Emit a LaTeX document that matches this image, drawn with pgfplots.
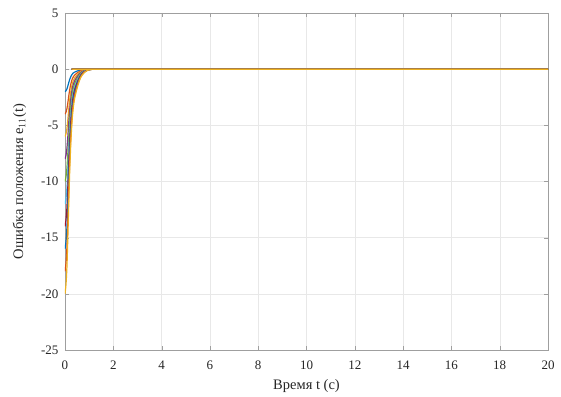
\documentclass[border=0pt]{standalone}
\usepackage{fontspec}
\setmainfont{Liberation Serif}
\usepackage{pgfplots}
\usepackage{pgfplotstable}
\pgfplotsset{compat=1.18}
\definecolor{m1}{rgb}{0,0.447,0.741}
\definecolor{m2}{rgb}{0.85,0.325,0.098}
\definecolor{m3}{rgb}{0.929,0.694,0.125}
\definecolor{m4}{rgb}{0.494,0.184,0.556}
\definecolor{m5}{rgb}{0.466,0.674,0.188}
\definecolor{m6}{rgb}{0.301,0.745,0.933}
\definecolor{m7}{rgb}{0.635,0.078,0.184}
\pgfplotstableread{
t    c1     c2     c3     c4     c5     c6     c7     c8     c9     c10
0    -2     -4     -6     -8     -10    -12    -14    -16    -18    -20
0.04 -1.92  -3.84  -5.76  -7.68  -9.6   -11.52 -13.44 -15.36 -17.28 -19.2
0.08 -1.76  -3.52  -5.28  -7.04  -8.8   -10.56 -12.32 -14.08 -15.84 -17.6
0.12 -1.48  -2.96  -4.44  -5.92  -7.4   -8.88  -10.36 -11.84 -13.32 -14.8
0.16 -1.16  -2.32  -3.48  -4.64  -5.8   -6.96  -8.12  -9.28  -10.44 -11.6
0.2  -0.88  -1.76  -2.64  -3.52  -4.4   -5.28  -6.16  -7.04  -7.92  -8.8
0.25 -0.62  -1.24  -1.86  -2.48  -3.1   -3.72  -4.34  -4.96  -5.58  -6.2
0.3  -0.44  -0.88  -1.32  -1.76  -2.2   -2.64  -3.08  -3.52  -3.96  -4.4
0.35 -0.33  -0.66  -0.99  -1.32  -1.65  -1.98  -2.31  -2.64  -2.97  -3.3
0.4  -0.26  -0.52  -0.78  -1.04  -1.3   -1.56  -1.82  -2.08  -2.34  -2.6
0.5  -0.17  -0.34  -0.51  -0.68  -0.85  -1.02  -1.19  -1.36  -1.53  -1.7
0.6  -0.10  -0.20  -0.30  -0.40  -0.5   -0.60  -0.70  -0.80  -0.90  -1.0
0.7  -0.056 -0.112 -0.168 -0.224 -0.28  -0.336 -0.392 -0.448 -0.504 -0.56
0.8  -0.03  -0.06  -0.09  -0.12  -0.15  -0.18  -0.21  -0.24  -0.27  -0.30
0.9  -0.014 -0.028 -0.042 -0.056 -0.07  -0.084 -0.098 -0.112 -0.126 -0.14
1.0  -0.006 -0.012 -0.018 -0.024 -0.03  -0.036 -0.042 -0.048 -0.054 -0.06
1.2  0      0      0      0      0      0      0      0      0      0
1.5  0      0      0      0      0      0      0      0      0      0
20   0      0      0      0      0      0      0      0      0      0
}\data
\begin{document}
\begin{tikzpicture}
\path (-65pt,-46pt) rectangle (496pt,350pt);
\begin{axis}[
  scale only axis, width=483pt, height=337pt,
  at={(0,0)}, anchor=south west,
  xmin=0, xmax=20, ymin=-25, ymax=5,
  xtick={0,2,...,20}, ytick={-25,-20,...,5},
  grid=major, major grid style={gray!18, line width=0.4pt},
  tick align=inside, axis line style={gray!75, line width=0.5pt},
  major tick style={gray!75}, tick pos=both,
  ticklabel style={font=\fontsize{13}{15}\selectfont, text=black!85},
  xticklabel style={yshift=-7pt},
  yticklabel style={xshift=-3pt},
  /pgf/number format/assume math mode=true,
  xlabel={Время t (c)}, ylabel={Ошибка положения e$_{11}$(t)},
  label style={font=\fontsize{14.5}{16}\selectfont, text=black!85},
  xlabel style={yshift=-3pt}, ylabel style={yshift=8pt},
  every axis plot/.append style={line width=1.2pt, smooth},
]
\addplot[m1] table[x=t,y=c1]{\data};
\addplot[m2] table[x=t,y=c2]{\data};
\addplot[m3] table[x=t,y=c3]{\data};
\addplot[m4] table[x=t,y=c4]{\data};
\addplot[m5] table[x=t,y=c5]{\data};
\addplot[m6] table[x=t,y=c6]{\data};
\addplot[m7] table[x=t,y=c7]{\data};
\addplot[m1] table[x=t,y=c8]{\data};
\addplot[m2] table[x=t,y=c9]{\data};
\addplot[m3] table[x=t,y=c10]{\data};
\end{axis}
\end{tikzpicture}
\end{document}
